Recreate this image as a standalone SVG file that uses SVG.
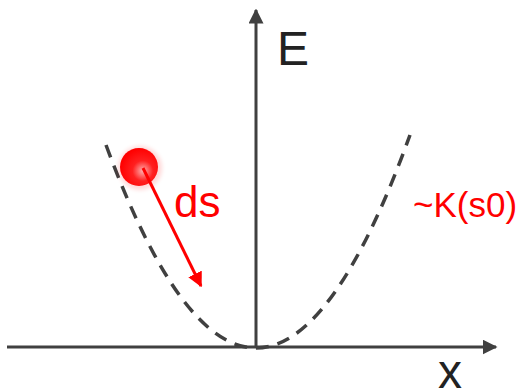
<svg xmlns="http://www.w3.org/2000/svg" width="524" height="390" viewBox="0 0 524 390">
<style>
.axis{stroke:#404040;stroke-width:3;fill:none}
.curve{stroke:#404040;stroke-width:3.5;fill:none;stroke-dasharray:13 9}
.lbl{font-family:"Liberation Sans",Arial,sans-serif}
</style>
<defs>
<marker id="ah" viewBox="0 0 10 10" refX="9" refY="5" markerWidth="5" markerHeight="5" markerUnits="strokeWidth" orient="auto"><path d="M0,0 L10,5 L0,10 z" fill="#404040"/></marker>
<marker id="ahr" viewBox="0 0 10 10" refX="9" refY="5" markerWidth="5" markerHeight="5" markerUnits="strokeWidth" orient="auto"><path d="M0,0 L10,5 L0,10 z" fill="#ff0000"/></marker>
<radialGradient id="ball" cx="0.6" cy="0.6" r="0.6">
<stop offset="0" stop-color="#ffb0b0"/>
<stop offset="0.45" stop-color="#ff2020"/>
<stop offset="1" stop-color="#ff0000"/>
</radialGradient>
<filter id="glow" x="-50%" y="-50%" width="200%" height="200%"><feGaussianBlur stdDeviation="2"/></filter>
</defs>
<g id="connectors">
<line class="axis" x1="7" y1="347" x2="496" y2="347" marker-end="url(#ah)"/>
<line class="axis" x1="256" y1="347" x2="256" y2="10" marker-end="url(#ah)"/>
</g>
<g id="curve"><path class="curve" d="M106,145 Q181,348 256,348 Q333,348 410,135"/></g>
<g id="ball-node">
<circle cx="140" cy="168" r="22" fill="#ff0000" opacity="0.15" filter="url(#glow)"/>
<circle cx="139" cy="167" r="19" fill="url(#ball)"/>
</g>
<g id="ds-arrow"><line x1="143" y1="168" x2="201" y2="286" stroke="#ff0000" stroke-width="3" marker-end="url(#ahr)"/></g>
<g id="labels">
<text class="lbl" x="174" y="217" font-size="44" fill="#ff0000">ds</text>
<text class="lbl" x="413" y="217" font-size="35" fill="#ff0000">~K(s0)</text>
<text class="lbl" x="277" y="65" font-size="48" fill="#222">E</text>
<text class="lbl" x="438" y="388" font-size="48" fill="#222">x</text>
</g>
</svg>
